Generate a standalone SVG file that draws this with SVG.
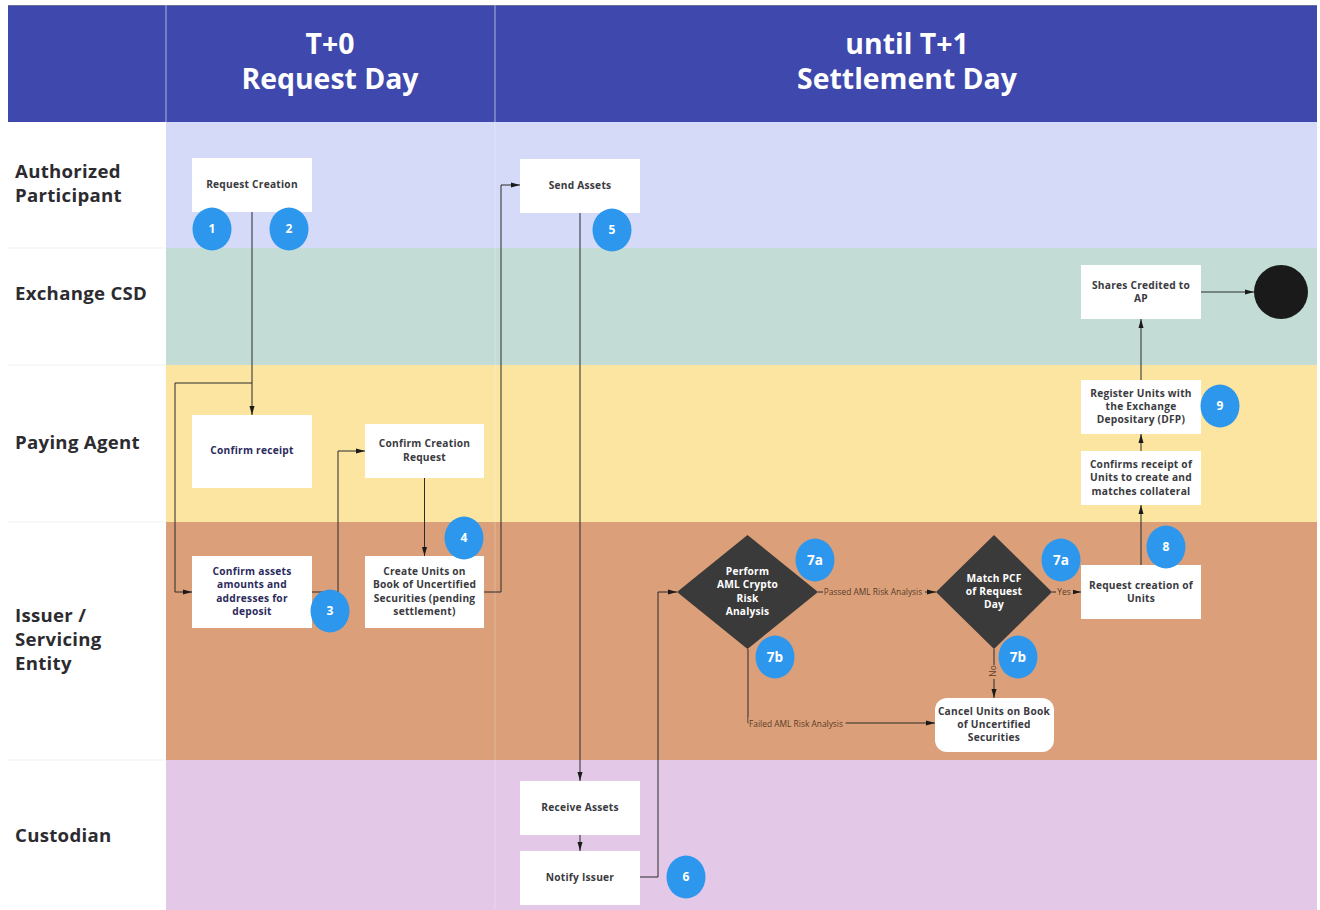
<svg xmlns="http://www.w3.org/2000/svg" width="1320" height="910" viewBox="0 0 1320 910">
<style>
text{font-family:"Open Sans","Noto Sans","Liberation Sans",sans-serif;font-weight:700;text-anchor:middle}
.box{fill:#fff}
.t{font-size:10.2px;letter-spacing:.24px;fill:#3a3a40}
.n{font-size:10.2px;letter-spacing:.24px;fill:#2b2b5c}
.d{font-size:10.2px;letter-spacing:.2px;fill:#fff}
.h{font-size:28.4px;fill:#fff}
.l{font-size:18.600px;letter-spacing:.3px;fill:#2c2c30;text-anchor:start}
.b{font-size:12px;fill:#fff}
.s{font-size:13.500px;fill:#fff}
.badge{fill:#2d97ee}
.c{fill:none;stroke:#2b2b2b;stroke-width:1}
.lab{font-size:8.4px;font-weight:400;fill:#5a3a2a}
.sep{stroke:#f1f1f3;stroke-width:1}
</style>
<defs><marker id="a" markerUnits="userSpaceOnUse" markerWidth="9" markerHeight="6" refX="9" refY="3" orient="auto"><path d="M0 0.500L9 3L0 5.500z" fill="#1a1a1a"/></marker></defs>
<rect width="1320" height="910" fill="#fff"/>
<g id="lanes">
<rect x="166" y="122" width="1151" height="126" fill="#d6daf9"/>
<rect x="166" y="248" width="1151" height="117" fill="#c3dcd6"/>
<rect x="166" y="365" width="1151" height="157" fill="#fbe5a1"/>
<rect x="166" y="522" width="1151" height="238" fill="#dba079"/>
<rect x="166" y="760" width="1151" height="150" fill="#e3c8e8"/>
<line x1="495" y1="122" x2="495" y2="910" stroke="#fff" stroke-opacity=".25"/>
<line class="sep" x1="8" y1="248" x2="166" y2="248"/><line class="sep" x1="8" y1="365" x2="166" y2="365"/><line class="sep" x1="8" y1="522" x2="166" y2="522"/><line class="sep" x1="8" y1="760" x2="166" y2="760"/>
</g>
<g id="header">
<rect x="8" y="5" width="1309" height="117" fill="#3f48ac"/>
<line x1="8" y1="5.500" x2="1317" y2="5.500" stroke="#6a6f9a"/>
<line x1="166" y1="5" x2="166" y2="122" stroke="#aeb2dc"/><line x1="495" y1="5" x2="495" y2="122" stroke="#aeb2dc"/>
<text class="h" x="330" y="54">T+0</text><text class="h" x="330" y="89">Request Day</text>
<text class="h" x="907" y="54">until T+1</text><text class="h" x="907" y="89">Settlement Day</text>
</g>
<g id="lane-labels">
<text class="l" x="15" y="178">Authorized</text><text class="l" x="15" y="202">Participant</text>
<text class="l" x="15" y="300">Exchange CSD</text>
<text class="l" x="15" y="449">Paying Agent</text>
<text class="l" x="15" y="622">Issuer /</text><text class="l" x="15" y="646">Servicing</text><text class="l" x="15" y="670">Entity</text>
<text class="l" x="15" y="842">Custodian</text>
</g>
<g id="connectors">
<path class="c" d="M252 212V415" marker-end="url(#a)"/>
<path class="c" d="M252 383H175V592H192" marker-end="url(#a)"/>
<path class="c" d="M312 592H338V451H365" marker-end="url(#a)"/>
<path class="c" d="M424.500 478V556" marker-end="url(#a)"/>
<path class="c" d="M484 592H501V185H520" marker-end="url(#a)"/>
<path class="c" d="M580 213V781" marker-end="url(#a)"/>
<path class="c" d="M580 835V851" marker-end="url(#a)"/>
<path class="c" d="M640 877H658V592H677" marker-end="url(#a)"/>
<path class="c" d="M818 592H936" marker-end="url(#a)"/>
<path class="c" d="M748 649V723H935" marker-end="url(#a)"/>
<path class="c" d="M994 649V698" marker-end="url(#a)"/>
<path class="c" d="M1052 592H1081" marker-end="url(#a)"/>
<path class="c" d="M1141 565V505" marker-end="url(#a)"/>
<path class="c" d="M1141 451V434" marker-end="url(#a)"/>
<path class="c" d="M1141 380V319" marker-end="url(#a)"/>
<path class="c" d="M1201 292H1254" marker-end="url(#a)"/>
<rect x="823" y="586" width="102" height="12" fill="#dba079"/><text class="lab" x="873" y="595">Passed AML Risk Analysis</text>
<rect x="748.500" y="717" width="97" height="12" fill="#dba079"/><text class="lab" x="796" y="727">Failed AML Risk Analysis</text>
<rect x="1056" y="586" width="17" height="12" fill="#dba079"/><text class="lab" x="1064" y="595">Yes</text>
<rect x="988" y="665" width="12" height="14" fill="#dba079"/><text class="lab" transform="translate(996 671) rotate(-90)">No</text>
</g>
<g id="request-creation"><rect class="box" x="192" y="158" width="120" height="54"/><text class="t" x="252" y="188">Request Creation</text></g>
<g id="send-assets"><rect class="box" x="520" y="159" width="120" height="54"/><text class="t" x="580" y="189">Send Assets</text></g>
<g id="confirm-receipt"><rect class="box" x="192" y="415" width="120" height="73"/><text class="n" x="252" y="454">Confirm receipt</text></g>
<g id="confirm-creation"><rect class="box" x="365" y="424" width="119" height="54"/><text class="t" x="424.500" y="447">Confirm Creation</text><text class="t" x="424.500" y="460.500">Request</text></g>
<g id="confirm-assets"><rect class="box" x="192" y="556" width="120" height="72"/><text class="n" x="252" y="575">Confirm assets</text><text class="n" x="252" y="588">amounts and</text><text class="n" x="252" y="602">addresses for</text><text class="n" x="252" y="615">deposit</text></g>
<g id="create-units"><rect class="box" x="365" y="556" width="119" height="72"/><text class="t" x="424.500" y="575">Create Units on</text><text class="t" x="424.500" y="588">Book of Uncertified</text><text class="t" x="424.500" y="602">Securities (pending</text><text class="t" x="424.500" y="615">settlement)</text></g>
<g id="perform-aml"><path d="M747.500 535L818 592L747.500 649L677 592z" fill="#3a3a3a"/><text class="d" x="747.500" y="575">Perform</text><text class="d" x="747.500" y="588">AML Crypto</text><text class="d" x="747.500" y="602">Risk</text><text class="d" x="747.500" y="615">Analysis</text></g>
<g id="match-pcf"><path d="M994 535L1052 592L994 649L936 592z" fill="#3a3a3a"/><text class="d" x="994" y="582">Match PCF</text><text class="d" x="994" y="595">of Request</text><text class="d" x="994" y="608">Day</text></g>
<g id="request-units"><rect class="box" x="1081" y="565" width="120" height="54"/><text class="t" x="1141" y="589">Request creation of</text><text class="t" x="1141" y="602">Units</text></g>
<g id="cancel-units"><rect class="box" x="935" y="698" width="119" height="54" rx="12"/><text class="t" x="994" y="714.500">Cancel Units on Book</text><text class="t" x="994" y="727.500">of Uncertified</text><text class="t" x="994" y="741">Securities</text></g>
<g id="receive-assets"><rect class="box" x="520" y="781" width="120" height="54"/><text class="t" x="580" y="810.500">Receive Assets</text></g>
<g id="notify-issuer"><rect class="box" x="520" y="851" width="120" height="54"/><text class="t" x="580" y="881">Notify Issuer</text></g>
<g id="shares-credited"><rect class="box" x="1081" y="265" width="120" height="54"/><text class="t" x="1141" y="288.500">Shares Credited to</text><text class="t" x="1141" y="301.500">AP</text></g>
<g id="register-units"><rect class="box" x="1081" y="380" width="120" height="54"/><text class="t" x="1141" y="397">Register Units with</text><text class="t" x="1141" y="410">the Exchange</text><text class="t" x="1141" y="423">Depositary (DFP)</text></g>
<g id="confirms-receipt"><rect class="box" x="1081" y="451" width="120" height="54"/><text class="t" x="1141" y="468">Confirms receipt of</text><text class="t" x="1141" y="481">Units to create and</text><text class="t" x="1141" y="495">matches collateral</text></g>
<g id="end"><circle cx="1281" cy="292" r="27" fill="#1a1a1a"/></g>
<g id="badge-1"><ellipse class="badge" cx="212" cy="229" rx="19.500" ry="21.500"/><text class="b" x="212" y="233">1</text></g>
<g id="badge-2"><ellipse class="badge" cx="289" cy="229" rx="19.500" ry="21.500"/><text class="b" x="289" y="233">2</text></g>
<g id="badge-3"><ellipse class="badge" cx="330" cy="611" rx="19.500" ry="21.500"/><text class="b" x="330" y="615">3</text></g>
<g id="badge-4"><ellipse class="badge" cx="464" cy="538" rx="19.500" ry="21.500"/><text class="b" x="464" y="542">4</text></g>
<g id="badge-5"><ellipse class="badge" cx="612" cy="230" rx="19.500" ry="21.500"/><text class="b" x="612" y="234">5</text></g>
<g id="badge-6"><ellipse class="badge" cx="686" cy="877" rx="19.500" ry="21.500"/><text class="b" x="686" y="881">6</text></g>
<g id="badge-7a-1"><ellipse class="badge" cx="815" cy="560" rx="19.500" ry="21.500"/><text class="s" x="815" y="565">7a</text></g>
<g id="badge-7a-2"><ellipse class="badge" cx="1061" cy="560" rx="19.500" ry="21.500"/><text class="s" x="1061" y="565">7a</text></g>
<g id="badge-7b-1"><ellipse class="badge" cx="775" cy="657" rx="19.500" ry="21.500"/><text class="s" x="775" y="662">7b</text></g>
<g id="badge-7b-2"><ellipse class="badge" cx="1018" cy="657" rx="19.500" ry="21.500"/><text class="s" x="1018" y="662">7b</text></g>
<g id="badge-8"><ellipse class="badge" cx="1166" cy="547" rx="19.500" ry="21.500"/><text class="b" x="1166" y="551">8</text></g>
<g id="badge-9"><ellipse class="badge" cx="1220" cy="406" rx="19.500" ry="21.500"/><text class="b" x="1220" y="410">9</text></g>
</svg>
